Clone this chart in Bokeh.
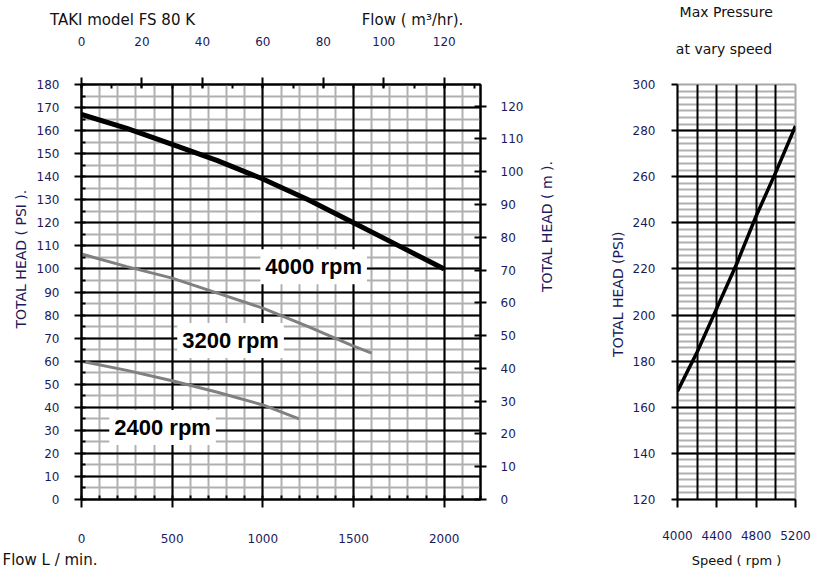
import math
from bokeh.plotting import figure
from bokeh.layouts import row
from bokeh.models import (Range1d, LinearAxis, SingleIntervalTicker, FixedTicker,
                          Grid, Label, Title)
from bokeh.embed import file_html
from bokeh.resources import INLINE

# ---------------- data ----------------
flow_4000 = [0, 250, 500, 750, 1000, 1250, 1500, 1750, 2000]
head_4000 = [167, 161, 154, 147, 139, 130, 120, 110, 100]

flow_3200 = [0, 250, 500, 750, 1000, 1250, 1500, 1600]
head_3200 = [106.5, 101, 96, 89.5, 83, 75, 66.5, 63.5]

flow_2400 = [0, 250, 500, 750, 1000, 1200]
head_2400 = [60, 56, 51.5, 46.5, 41, 35]

speed_rpm = [4000, 4200, 4400, 4600, 4800, 5000, 5200]
max_psi = [167, 184, 203, 222, 243, 262, 282]

curve_labels = ["4000 rpm", "3200 rpm", "2400 rpm"]
label_pos_flow = [1280, 822, 447]
label_pos_head = [101, 69, 31.2]

speed_grid_ticks = [4200, 4400, 4600, 4800, 5000]
psi_grid_ticks = [140, 160, 180, 200, 220, 240, 260, 280]

# header texts, anchored at positions along the top of each chart
header1_pos = [226, 1825]
header1_text = ["TAKI model FS 80 K", "Flow ( m³/hr)."]
header2_pos = [4495]
header2_line2 = ["at vary  speed"]
header2_line1 = ["Max Pressure"]

FONT = "DejaVu Sans"
NAVY = "#1b1b5c"
BLACK = "#000000"
DARK = "#111111"
GRAY_GRID = "#b0b0b0"
GRAY_CURVE = "#808080"


def make_title(text, size, color=DARK, align="left", offset=0, standoff=10):
    return Title(text=text, align=align, offset=offset, standoff=standoff,
                 text_font=FONT, text_font_size=size, text_font_style="normal",
                 text_color=color)


def text_axis(positions, texts, size, standoff, x_range_name="default"):
    # an axis without line or ticks: used only to write header texts
    return LinearAxis(x_range_name=x_range_name,
                      ticker=FixedTicker(ticks=positions, minor_ticks=[]),
                      major_label_overrides={pp: tt for pp, tt in zip(positions, texts)},
                      axis_line_color=None, major_tick_line_color=None,
                      minor_tick_line_color=None, major_tick_out=0, major_tick_in=0,
                      minor_tick_out=0, minor_tick_in=0,
                      major_label_standoff=standoff, major_label_text_font=FONT,
                      major_label_text_font_size=size, major_label_text_color=DARK)


# ---------------- figure 1 ----------------
W1, H1 = 600, 578
BL1, BR1, BT1, BB1 = 81, 120, 78, 79

p1 = figure(width=W1, height=H1, output_backend="svg", toolbar_location=None,
            x_range=Range1d(0, 2200), y_range=Range1d(0, 180),
            min_border_left=BL1, min_border_right=BR1,
            min_border_top=BT1, min_border_bottom=BB1,
            background_fill_color="white", border_fill_color="white",
            outline_line_color=BLACK, outline_line_width=2)
p1.xgrid.visible = False
p1.ygrid.visible = False

xt1 = SingleIntervalTicker(interval=500, num_minor_ticks=5)
yt1 = SingleIntervalTicker(interval=10, num_minor_ticks=2)

for ax in (p1.xaxis[0], p1.yaxis[0]):
    ax.axis_line_width = 2
    ax.major_tick_line_width = 2
    ax.minor_tick_line_width = 2
    ax.major_label_text_font = FONT
    ax.major_label_text_font_size = "12px"
    ax.major_label_text_color = NAVY

p1.xaxis[0].ticker = xt1
p1.xaxis[0].major_tick_out = 8
p1.xaxis[0].major_tick_in = 0
p1.xaxis[0].minor_tick_in = 4
p1.xaxis[0].minor_tick_out = 0
p1.xaxis[0].major_label_standoff = 26

p1.yaxis[0].ticker = yt1
p1.yaxis[0].major_tick_out = 7
p1.yaxis[0].major_tick_in = 0
p1.yaxis[0].minor_tick_in = 4
p1.yaxis[0].minor_tick_out = 0
p1.yaxis[0].major_label_standoff = 15

p1.extra_x_ranges = {"m3": Range1d(0, 132)}
p1.extra_y_ranges = {"m": Range1d(0, 126.6)}

top_ax = LinearAxis(x_range_name="m3",
                    ticker=SingleIntervalTicker(interval=20, num_minor_ticks=2),
                    axis_line_width=2, major_tick_line_width=2, minor_tick_line_width=2,
                    major_tick_out=7, major_tick_in=3, minor_tick_in=4, minor_tick_out=0,
                    major_label_standoff=32, major_label_text_font=FONT,
                    major_label_text_font_size="12px", major_label_text_color=NAVY)
p1.add_layout(top_ax, "above")
p1.add_layout(text_axis(header1_pos, header1_text, "15px", 5), "above")

right_ax = LinearAxis(y_range_name="m",
                      ticker=SingleIntervalTicker(interval=10, num_minor_ticks=0),
                      axis_line_width=2, major_tick_line_width=2,
                      major_tick_out=6, major_tick_in=6,
                      major_label_standoff=14, major_label_text_font=FONT,
                      major_label_text_font_size="12px", major_label_text_color=NAVY,
                      axis_label="TOTAL HEAD ( m ).", axis_label_standoff=21,
                      axis_label_text_font=FONT, axis_label_text_font_size="14px",
                      axis_label_text_font_style="normal", axis_label_text_color=NAVY)
if "axis_label_orientation" in right_ax.properties():
    right_ax.axis_label_orientation = math.pi / 2
p1.add_layout(right_ax, "right")

p1.add_layout(Grid(dimension=0, ticker=xt1, grid_line_color=None,
                   minor_grid_line_color=GRAY_GRID, minor_grid_line_width=2))
p1.add_layout(Grid(dimension=1, ticker=yt1, grid_line_color=None,
                   minor_grid_line_color=GRAY_GRID, minor_grid_line_width=2))
p1.add_layout(Grid(dimension=0, ticker=xt1, grid_line_color=BLACK, grid_line_width=2))
p1.add_layout(Grid(dimension=1, ticker=yt1, grid_line_color=BLACK, grid_line_width=2))

p1.line(flow_3200, head_3200, line_color=GRAY_CURVE, line_width=3)
p1.line(flow_2400, head_2400, line_color=GRAY_CURVE, line_width=3)
p1.line(flow_4000, head_4000, line_color=BLACK, line_width=5)

for txt, fx, fy in zip(curve_labels, label_pos_flow, label_pos_head):
    p1.add_layout(Label(x=fx, y=fy, text=txt, text_align="center", text_baseline="middle",
                        text_font="Liberation Sans", text_font_style="bold",
                        text_font_size="22px", text_color=BLACK,
                        background_fill_color="white", padding=5))

p1.add_layout(make_title("TOTAL HEAD ( PSI ).", "14px", color=NAVY, align="left",
                         offset=171, standoff=9), "left")
p1.add_layout(make_title("Flow  L / min.", "15px", align="left", offset=-79,
                         standoff=6), "below")

# ---------------- figure 2 ----------------
W2, H2 = 226, 578
BL2, BR2, BT2, BB2 = 77, 31, 81, 78

p2 = figure(width=W2, height=H2, output_backend="svg", toolbar_location=None,
            x_range=Range1d(4000, 5200), y_range=Range1d(120, 300),
            min_border_left=BL2, min_border_right=BR2,
            min_border_top=BT2, min_border_bottom=BB2,
            background_fill_color="white", border_fill_color="white",
            outline_line_color="#a8a8a8", outline_line_width=2)
p2.xgrid.visible = False
p2.ygrid.visible = False

for ax in (p2.xaxis[0], p2.yaxis[0]):
    ax.axis_line_width = 2
    ax.major_tick_line_width = 2
    ax.major_label_text_font = FONT
    ax.major_label_text_font_size = "12px"
    ax.major_label_text_color = NAVY
    ax.minor_tick_line_color = None
    ax.axis_label_text_font = FONT
    ax.axis_label_text_font_style = "normal"

p2.xaxis[0].ticker = SingleIntervalTicker(interval=400, num_minor_ticks=0)
p2.xaxis[0].major_tick_out = 8
p2.xaxis[0].major_tick_in = 0
p2.xaxis[0].major_label_standoff = 23
p2.xaxis[0].axis_label = "Speed ( rpm )"
p2.xaxis[0].axis_label_text_font_size = "13px"
p2.xaxis[0].axis_label_text_color = DARK
p2.xaxis[0].axis_label_standoff = 10

p2.yaxis[0].ticker = SingleIntervalTicker(interval=20, num_minor_ticks=0)
p2.yaxis[0].major_tick_out = 6
p2.yaxis[0].major_tick_in = 0
p2.yaxis[0].major_label_standoff = 16
p2.yaxis[0].axis_label = "TOTAL HEAD  (PSI)"
p2.yaxis[0].axis_label_text_font_size = "14px"
p2.yaxis[0].axis_label_text_color = NAVY
p2.yaxis[0].axis_label_standoff = 4

p2.add_layout(text_axis(header2_pos, header2_line2, "14px", 28), "above")
p2.add_layout(text_axis(header2_pos, header2_line1, "14px", 18), "above")

p2.add_layout(Grid(dimension=1, ticker=SingleIntervalTicker(interval=20, num_minor_ticks=7),
                   grid_line_color=None, minor_grid_line_color=GRAY_GRID,
                   minor_grid_line_width=2))
p2.add_layout(Grid(dimension=0, ticker=FixedTicker(ticks=speed_grid_ticks),
                   grid_line_color=BLACK, grid_line_width=2))
p2.add_layout(Grid(dimension=1, ticker=FixedTicker(ticks=psi_grid_ticks),
                   grid_line_color=BLACK, grid_line_width=2))

p2.line(speed_rpm, max_psi, line_color=BLACK, line_width=3.5)

layout = row(p1, p2, spacing=0)
open("out.html", "w").write(file_html(layout, INLINE))
